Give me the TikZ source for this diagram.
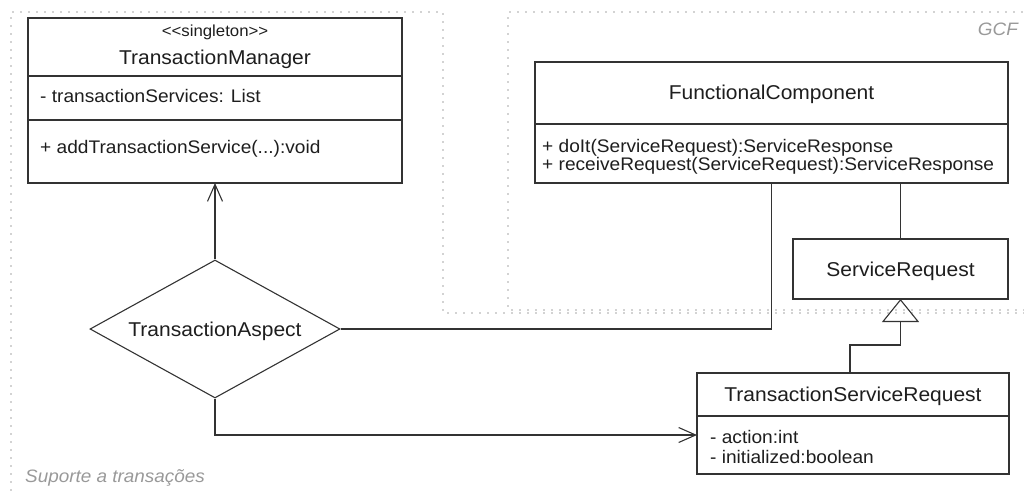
\documentclass[tikz,border=0pt]{standalone}
\usepackage{fontspec}
\setmainfont{Liberation Sans}[FakeStretch=1.05]
\usetikzlibrary{arrows.meta,shapes.geometric}
\definecolor{ln}{HTML}{333333}
\definecolor{tx}{HTML}{1E1E1E}
\definecolor{fr}{HTML}{A5A5A5}
\definecolor{lb}{HTML}{999999}
\newcommand\umlTitleFont{\fontsize{20}{24}\selectfont}
\newcommand\umlAttrFont{\fontsize{18.2}{22}\selectfont}
\newcommand\umlSterFont{\fontsize{16}{19}\selectfont}
\newcommand\umlLabFont{\fontsize{18}{22}\selectfont\itshape}
\begin{document}
\begin{tikzpicture}[x=1pt,y=-1pt,
  cbox/.style={draw=ln, line width=1.1pt, inner sep=0pt, outer sep=0pt, rectangle},
  ttl/.style={anchor=base, text=tx, font=\umlTitleFont, inner sep=0pt},
  attr/.style={anchor=base west, text=tx, font=\umlAttrFont, inner sep=0pt},
  ster/.style={anchor=base, text=tx, font=\umlSterFont, inner sep=0pt},
  lab/.style={text=lb, font=\umlLabFont, inner sep=0pt},
  frame/.style={draw=fr, line width=1.9pt, dash pattern=on 0pt off 8pt, line cap=round},
  conn/.style={draw=ln, line width=1.1pt},
  assoc/.style={conn, -{Straight Barb[length=17pt,width=15pt,line width=1.1pt]}},
  gen/.style={conn, -{Triangle[open,length=23pt,width=37pt,line width=1.1pt]}}
]
\useasboundingbox (0,0) rectangle (1024,495);

% frames
\draw[frame] (1024,313) -- (443,313) -- (443,12) -- (11,12) -- (11,495);
\draw[frame] (1024,310) -- (508,310) -- (508,12) -- (1024,12);
\node[lab, anchor=base west] (suplab) at (25,482) {Suporte a transações};
\node[lab, anchor=base east] (gcflab) at (1018,36) {GCF};

% TransactionManager
\node[cbox, minimum width=374pt, minimum height=58pt] (tmtitle) at (215,47) {};
\node[cbox, minimum width=374pt, minimum height=44pt] (tmattr) at (215,98) {};
\node[cbox, minimum width=374pt, minimum height=63pt] (tmops) at (215,151.5) {};
\node[ster] (tmster) at (215,37) {<\kern0pt<singleton>\kern0pt>};
\node[ttl] (tmname) at (215,64) {TransactionManager};
\node[attr] (tmattrtxt) at (40,102) {- transactionServices: List};
\node[attr] (tmoptxt) at (40,153) {+ addTransactionService(...):void};

% FunctionalComponent
\node[cbox, minimum width=473pt, minimum height=62pt] (fctitle) at (771.5,93) {};
\node[cbox, minimum width=473pt, minimum height=59pt] (fcops) at (771.5,153.5) {};
\node[ttl] (fcname) at (771.5,99) {FunctionalComponent};
\node[attr] (fcop1) at (542,152) {+ doIt(ServiceRequest):ServiceResponse};
\node[attr] (fcop2) at (542,170) {+ receiveRequest(ServiceRequest):ServiceResponse};

% ServiceRequest
\node[cbox, minimum width=215pt, minimum height=60pt] (sr) at (900.5,269) {};
\node[ttl] (srname) at (900.5,276) {ServiceRequest};

% TransactionServiceRequest
\node[cbox, minimum width=312pt, minimum height=43pt] (tsrtitle) at (853,394.5) {};
\node[cbox, minimum width=312pt, minimum height=58pt] (tsrattr) at (853,445) {};
\node[ttl] (tsrname) at (853,401.5) {TransactionServiceRequest};
\node[attr] (tsra1) at (710,443) {- action:int};
\node[attr] (tsra2) at (710,463) {- initialized:boolean};

% TransactionAspect
\node[diamond, draw=ln, line width=1.1pt, inner sep=0pt, minimum width=250pt, minimum height=138pt] (asp) at (215,329) {};
\node[ttl] (aspname) at (215,336) {TransactionAspect};

% connectors
\draw[assoc] (asp.north) -- (tmops.south);
\draw[conn] (asp.east) -| (fcops.south);
\draw[conn] (fcops.south -| sr.north) -- (sr.north);
\coordinate (g1) at (850,345);
\draw[gen] (tsrtitle.north -| g1) -- (g1) -| (sr.south);
\draw[assoc] (asp.south) |- ([yshift=10pt]tsrattr.west);
\end{tikzpicture}
\end{document}
